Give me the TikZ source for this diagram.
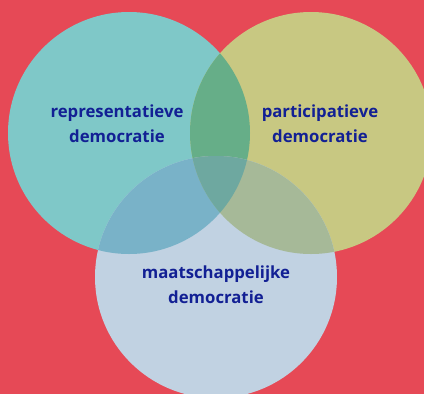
\documentclass[tikz,border=0pt]{standalone}
\usepackage{fontspec}
\setsansfont{Open Sans}[Ligatures=NoCommon]
\definecolor{bg}{RGB}{230,73,86}
\definecolor{cL}{RGB}{127,200,200}
\definecolor{cR}{RGB}{200,200,130}
\definecolor{cB}{RGB}{193,210,226}
\definecolor{cLR}{RGB}{102,174,136}
\definecolor{cLB}{RGB}{121,178,200}
\definecolor{cRB}{RGB}{166,185,152}
\definecolor{cLRB}{RGB}{110,168,160}
\definecolor{txt}{RGB}{18,32,148}
\begin{document}
\begin{tikzpicture}[x=1bp,y=-1bp,
  lbl/.style={font=\sffamily\bfseries\fontsize{16.8}{25}\selectfont, text=txt, align=center, inner sep=0pt}]
\fill[bg] (0,0) rectangle (424,394);
\useasboundingbox (0,0) rectangle (424,394);
\def\rr{121}
\coordinate (L) at (129,133);
\coordinate (R) at (311,133);
\coordinate (B) at (216,277);
\begin{scope}
\clip (0,0) rectangle (424,394);
\fill[cL] (L) circle (\rr);
\fill[cR] (R) circle (\rr);
\begin{scope}
\clip (L) circle (\rr);
\fill[cLR] (R) circle (\rr);
\end{scope}
\fill[cB] (B) circle (\rr);
\begin{scope}
\clip (B) circle (\rr);
\fill[cLB] (L) circle (\rr);
\fill[cRB] (R) circle (\rr);
\clip (L) circle (\rr);
\fill[cLRB] (R) circle (\rr);
\end{scope}
\end{scope}
\node[lbl] (tl) at (117,124) {representatieve\\democratie};
\node[lbl] (tr) at (320,124) {participatieve\\democratie};
\node[lbl] (tb) at (216,285) {maatschappelijke\\democratie};
\end{tikzpicture}
\end{document}
